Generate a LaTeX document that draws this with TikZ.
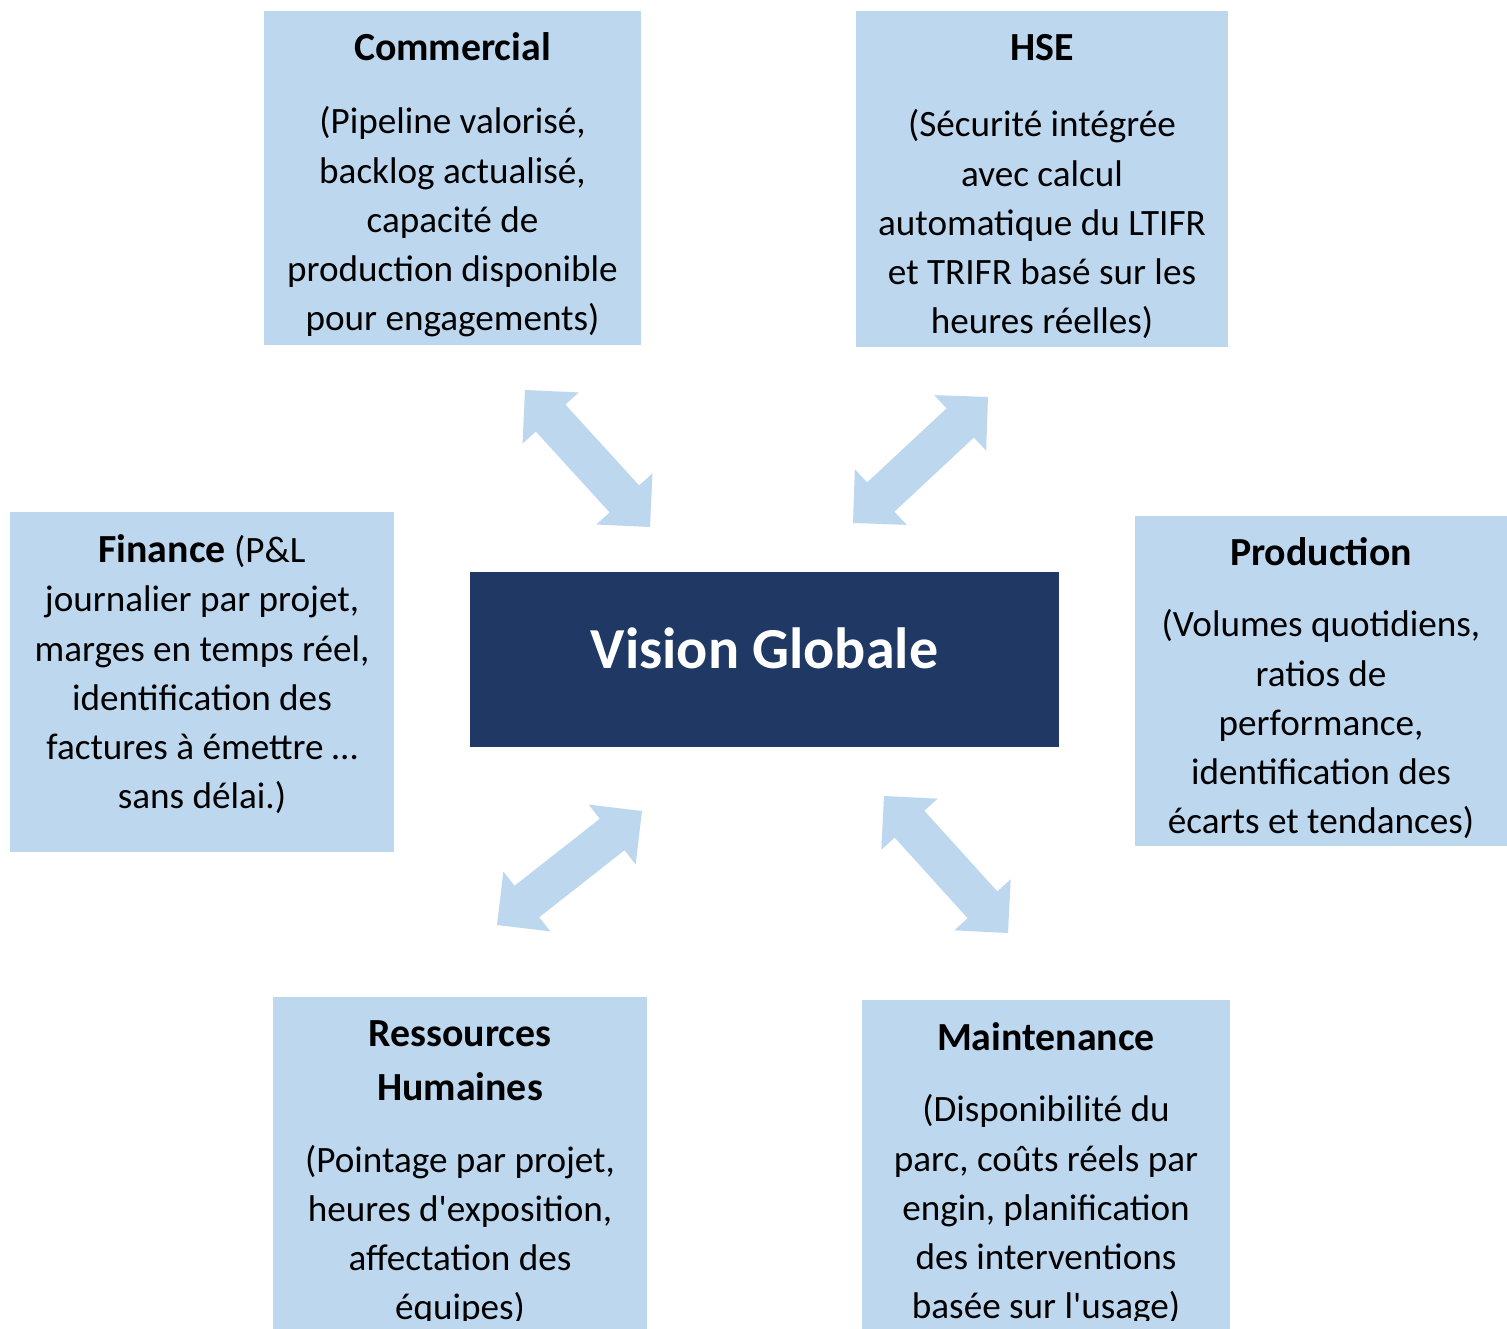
\documentclass[tikz,border=0pt]{standalone}
\usepackage{fontspec}
\setmainfont{Carlito}
\usetikzlibrary{calc}
\definecolor{boxblue}{HTML}{BDD7EE}
\definecolor{arrowblue}{HTML}{BDD7EE}
\definecolor{navyblue}{HTML}{1F3864}
\newcommand{\ttl}[1]{{\fontsize{40}{49.4}\selectfont\bfseries #1}}
\newcommand{\dblarrow}[2]{%
  \fill[arrowblue] (#1)
  -- ($(#1)!38bp!(#2)!38bp!90:(#2)$)
  -- ($(#1)!38bp!(#2)!20bp!90:(#2)$)
  -- ($(#2)!38bp!(#1)!20bp!-90:(#1)$)
  -- ($(#2)!38bp!(#1)!38bp!-90:(#1)$)
  -- (#2)
  -- ($(#2)!38bp!(#1)!38bp!90:(#1)$)
  -- ($(#2)!38bp!(#1)!20bp!90:(#1)$)
  -- ($(#1)!38bp!(#2)!20bp!-90:(#2)$)
  -- ($(#1)!38bp!(#2)!38bp!-90:(#2)$)
  -- cycle;}
\begin{document}
\begin{tikzpicture}[x=1bp,y=-1bp,
  box/.style={rectangle, fill=boxblue, draw=none, inner sep=0},
  txt/.style={font=\fontsize{37.3}{49.4}\selectfont, align=center, inner sep=0, anchor=north, text=black}]
\clip (0,0) rectangle (1507,1329);
\fill[white] (0,0) rectangle (1507,1329);
% boxes
\node[box, minimum width=377bp, minimum height=334bp] (com) at (452.5,178) {};
\node[box, minimum width=372bp, minimum height=336bp] (hse) at (1042,179) {};
\node[box, minimum width=384bp, minimum height=340bp] (fin) at (202,682) {};
\node[rectangle, fill=navyblue, inner sep=0, minimum width=589bp, minimum height=175bp] (vis) at (764.5,659.5) {};
\node[box, minimum width=372bp, minimum height=330bp] (pro) at (1321,681) {};
\node[box, minimum width=374bp, minimum height=343bp] (rh) at (460,1168.5) {};
\node[box, minimum width=368bp, minimum height=340bp] (mai) at (1046,1170) {};
% texts
\node[txt] (com-t) at (452.5,26) {\strut\ttl{Commercial}\\[24bp]
(Pipeline valorisé,\\ backlog actualisé,\\ capacité de\\ production disponible\\ pour engagements)};
\node[txt] (hse-t) at (1042,26) {\strut\ttl{HSE}\\[27bp]
(Sécurité intégrée\\ avec calcul\\ automatique du LTIFR\\ et TRIFR basé sur les\\ heures réelles)};
\node[txt] (fin-t) at (202,528) {\strut\ttl{Finance} (P\&L\\ journalier par projet,\\ marges en temps réel,\\ identification des\\ factures à émettre …\\ sans délai.)};
\node[txt] (pro-t) at (1321,531) {\strut\ttl{Production}\\[22bp]
(Volumes quotidiens,\\ ratios de\\ performance,\\ identification des\\ écarts et tendances)};
\node[font=\bfseries\fontsize{58.3}{70}\selectfont, text=white, anchor=base, inner sep=0] (vis-t) at (764.5,668) {Vision Globale};
\begin{scope}
\clip (0,0) rectangle (1507,1320);
\node[txt] (rh-t) at (460,1012) {\strut\ttl{Ressources}\\[5bp]\ttl{Humaines}\\[22bp]
(Pointage par projet,\\ heures d\textquotesingle exposition,\\ affectation des\\ équipes)};
\node[txt] (mai-t) at (1046,1016) {\strut\ttl{Maintenance}\\[22bp]
(Disponibilité du\\ parc, coûts réels par\\ engin, planification\\ des interventions\\ basée sur l\textquotesingle usage)};
\end{scope}
% arrows
\coordinate (a1s) at (525,390); \coordinate (a1e) at (650,527);
\coordinate (a2s) at (988,397); \coordinate (a2e) at (853,523);
\coordinate (a3s) at (642,811); \coordinate (a3e) at (497,925);
\coordinate (a4s) at (884,796); \coordinate (a4e) at (1008,933);
\dblarrow{a1s}{a1e}
\dblarrow{a2s}{a2e}
\dblarrow{a3s}{a3e}
\dblarrow{a4s}{a4e}
\end{tikzpicture}
\end{document}
